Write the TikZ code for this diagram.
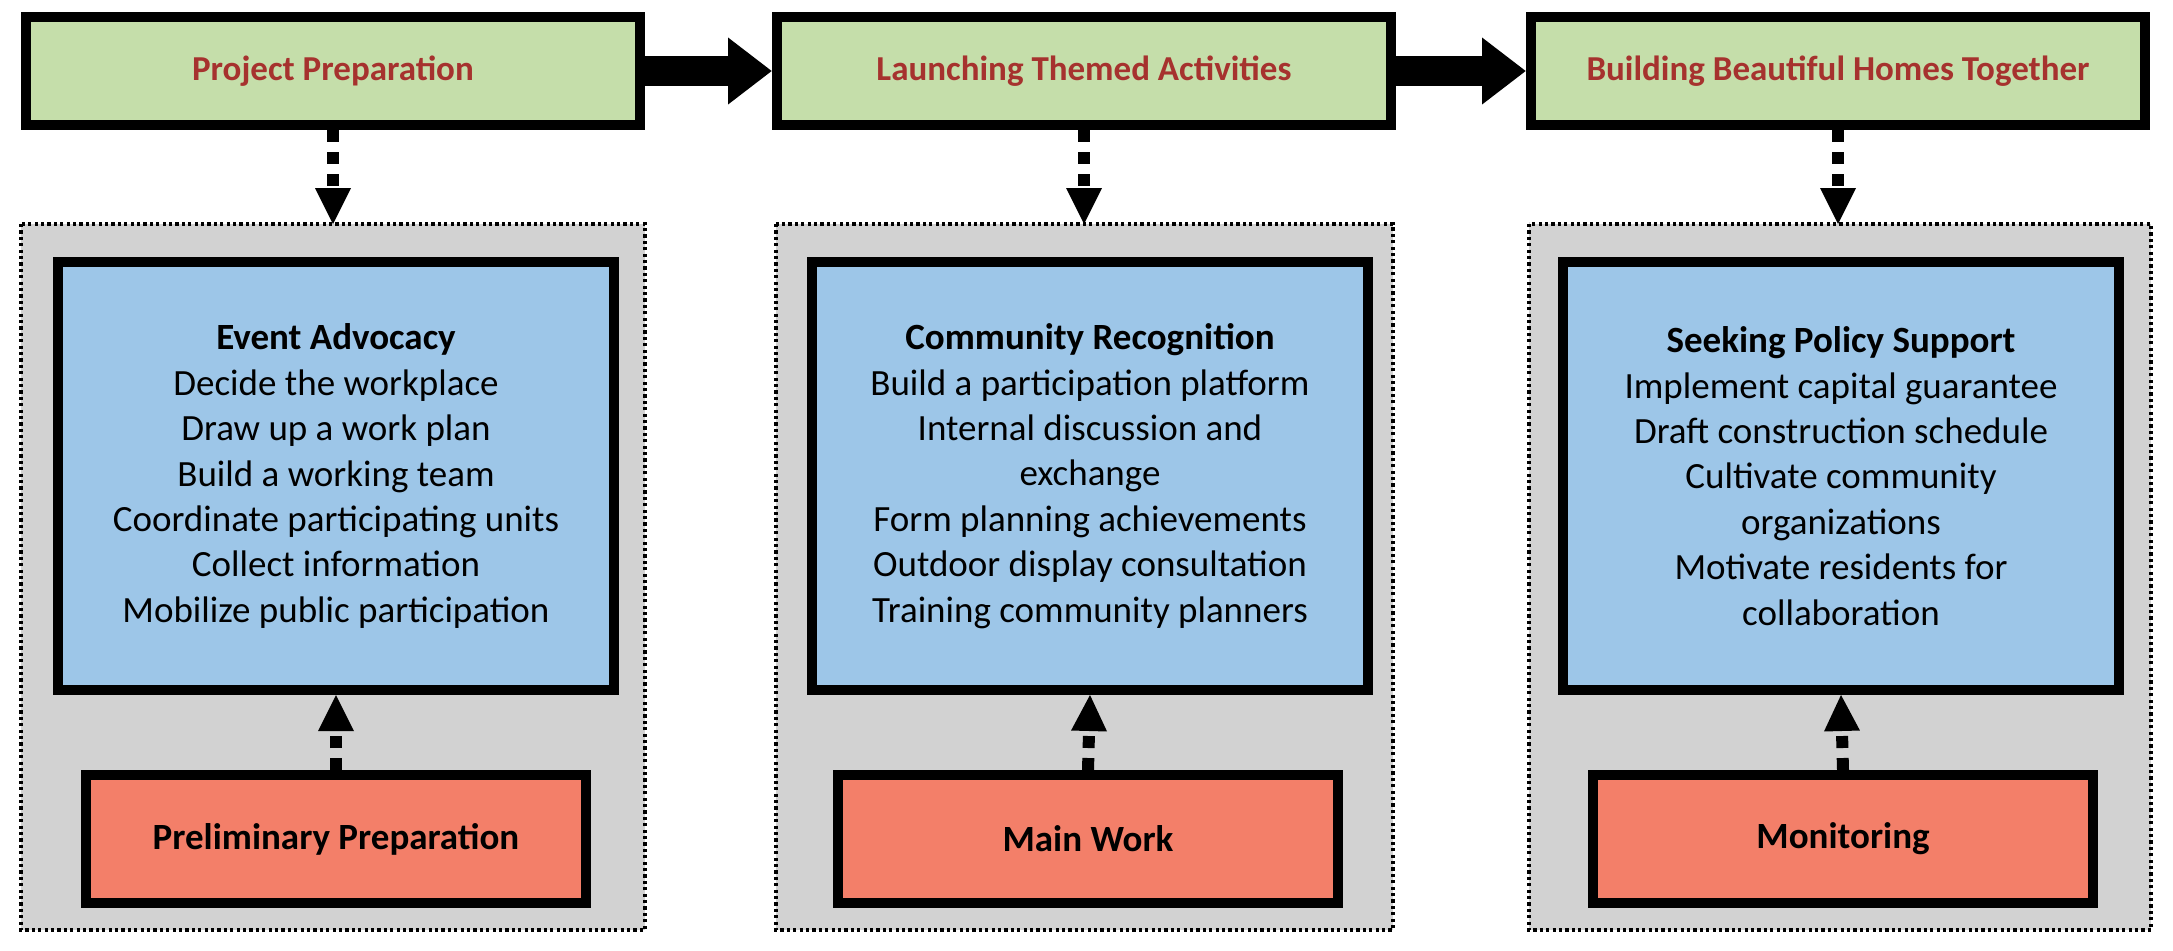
\documentclass[tikz,border=0pt]{standalone}
\usepackage{fontspec}
\setmainfont{Carlito}
\usetikzlibrary{arrows.meta}
\definecolor{gr}{HTML}{C5DEAA}
\definecolor{bl}{HTML}{9DC6E8}
\definecolor{rd}{HTML}{F37F69}
\definecolor{gy}{HTML}{D2D2D2}
\definecolor{tt}{HTML}{A6322E}
\begin{document}
\begin{tikzpicture}[x=0.5pt,y=-0.5pt,
 top/.style={draw,line width=5pt,fill=gr,minimum width=307pt,minimum height=54pt,font=\fontsize{17.5}{20}\selectfont\bfseries,text=tt},
 grpb/.style={draw,line width=1.6pt,dash pattern=on 1.6pt off 1.6pt},
 blu/.style={draw,line width=5pt,fill=bl,minimum width=278pt,minimum height=214pt,align=center,font=\fontsize{18.5}{22.7}\selectfont},
 red/.style={draw,line width=5pt,fill=rd,minimum width=250pt,minimum height=64pt,font=\fontsize{18.5}{22}\selectfont\bfseries},
 big/.style={line width=15pt,-{Triangle[length=22pt,width=32pt]}},
 dot/.style={line width=6pt,dash pattern=on 6pt off 5pt,-{Triangle[length=18pt,width=18pt,line width=0pt]}}]
\useasboundingbox (0,0) rectangle (2173,950);
\foreach \l/\r in {21/645,776/1393,1529/2151}{
 \fill[gy] (\l,224) rectangle (\r,930);
 \draw[grpb] (\l,224) rectangle (\r,930);
}
\node[top] (t1) at (333,71) {Project Preparation};
\node[top] (t2) at (1084,71) {Launching Themed Activities};
\node[top] (t3) at (1838,71) {Building Beautiful Homes Together};
\draw[big] (t1) -- (t2);
\draw[big] (t2) -- (t3);
\node[blu] (b1) at (336,476) {\textbf{Event Advocacy}\\Decide the workplace\\Draw up a work plan\\Build a working team\\Coordinate participating units\\Collect information\\Mobilize public participation};
\node[blu] (b2) at (1090,476) {\textbf{Community Recognition}\\Build a participation platform\\Internal discussion and\\exchange\\Form planning achievements\\Outdoor display consultation\\Training community planners};
\node[blu] (b3) at (1841,476) {\textbf{Seeking Policy Support}\\Implement capital guarantee\\Draft construction schedule\\Cultivate community\\organizations\\Motivate residents for\\collaboration};
\node[red] (r1) at (336,839) {Preliminary Preparation};
\node[red] (r2) at (1088,839) {Main Work};
\node[red] (r3) at (1843,839) {Monitoring};
\coordinate (g1) at (333,224); \coordinate (g2) at (1084,224); \coordinate (g3) at (1838,224);
\foreach \i in {1,2,3}{
 \draw[dot] (t\i.south) -- (g\i);
 \draw[dot] (r\i.north) -- (b\i.south);
}
\end{tikzpicture}
\end{document}
